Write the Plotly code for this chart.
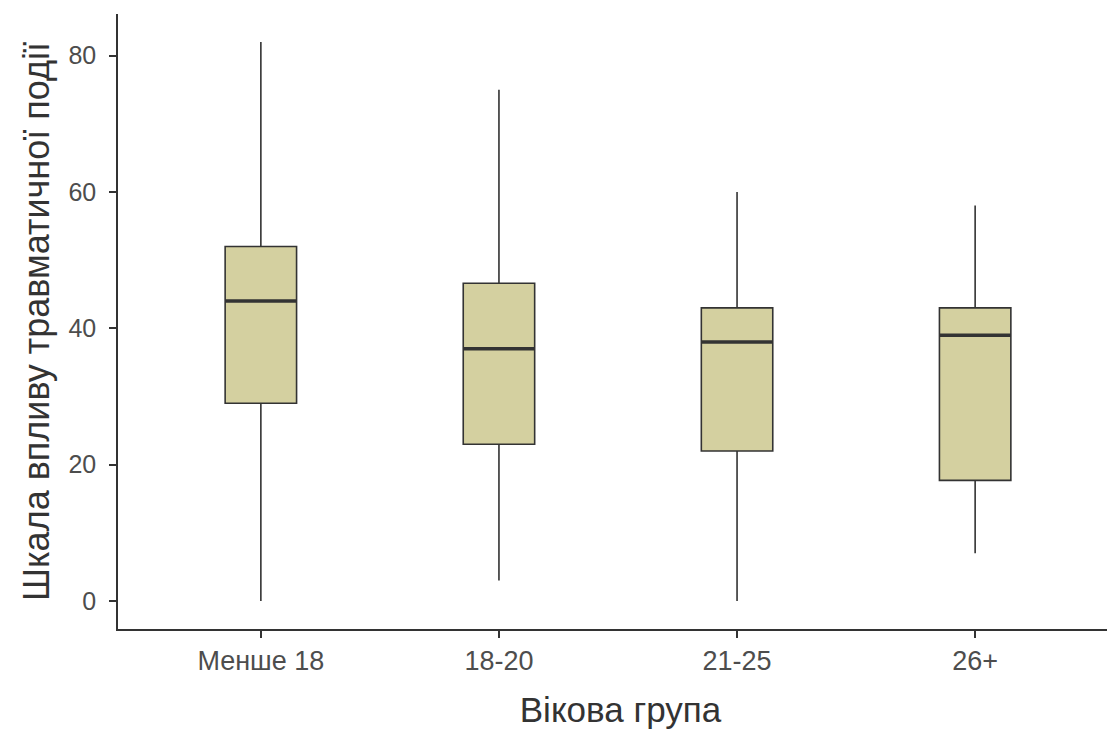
import plotly.graph_objects as go

categories = ["Менше 18", "18-20", "21-25", "26+"]
lower = [0, 3, 0, 7]
q1 = [29, 23, 22, 17.7]
median = [44, 37, 38, 39]
q3 = [52, 46.6, 43, 43]
upper = [82, 75, 60, 58]

box_w = 0.3
fill = "#D4D0A0"
line_col = "#333333"

xpos = list(range(len(categories)))

fig = go.Figure()
fig.add_trace(go.Box(
    x=xpos, q1=q1, median=median, q3=q3, lowerfence=lower, upperfence=upper,
    width=box_w, whiskerwidth=0, fillcolor=fill,
    line=dict(color=line_col, width=1.6), boxpoints=False, showlegend=False,
    hoverinfo="skip",
))
for i, m in enumerate(median):
    fig.add_trace(go.Scatter(
        x=[xpos[i] - box_w / 2, xpos[i] + box_w / 2], y=[m, m], mode="lines",
        line=dict(color=line_col, width=3.5), showlegend=False, hoverinfo="skip",
    ))

fig.update_layout(
    width=1115, height=733,
    margin=dict(l=110, r=0, t=6, b=112),
    paper_bgcolor="white", plot_bgcolor="white",
    font=dict(family="Liberation Sans, Arial, sans-serif"),
    xaxis=dict(
        range=[-0.6, 3.6 + 5 / 238], tickmode="array", tickvals=xpos, ticktext=categories,
        showgrid=False, zeroline=False, showline=True, linecolor="#333333", linewidth=1.5,
        ticks="outside", ticklen=7, tickcolor="#333333", tickwidth=1.5,
        tickfont=dict(size=27, color="#4D4D4D"),
        title=dict(text="Вікова група", font=dict(size=35, color="#333333"), standoff=22),
    ),
    yaxis=dict(
        range=[-4.1, 86.1], tickvals=[0, 20, 40, 60, 80],
        showgrid=False, zeroline=False, showline=True, linecolor="#333333", linewidth=1.5,
        ticks="outside", ticklen=7, tickcolor="#333333", tickwidth=1.5,
        tickfont=dict(size=25, color="#4D4D4D"), ticklabelstandoff=8,
        title=dict(text="Шкала впливу травматичної події", font=dict(size=36, color="#333333"), standoff=8),
    ),
)

fig.write_html("out.html")
